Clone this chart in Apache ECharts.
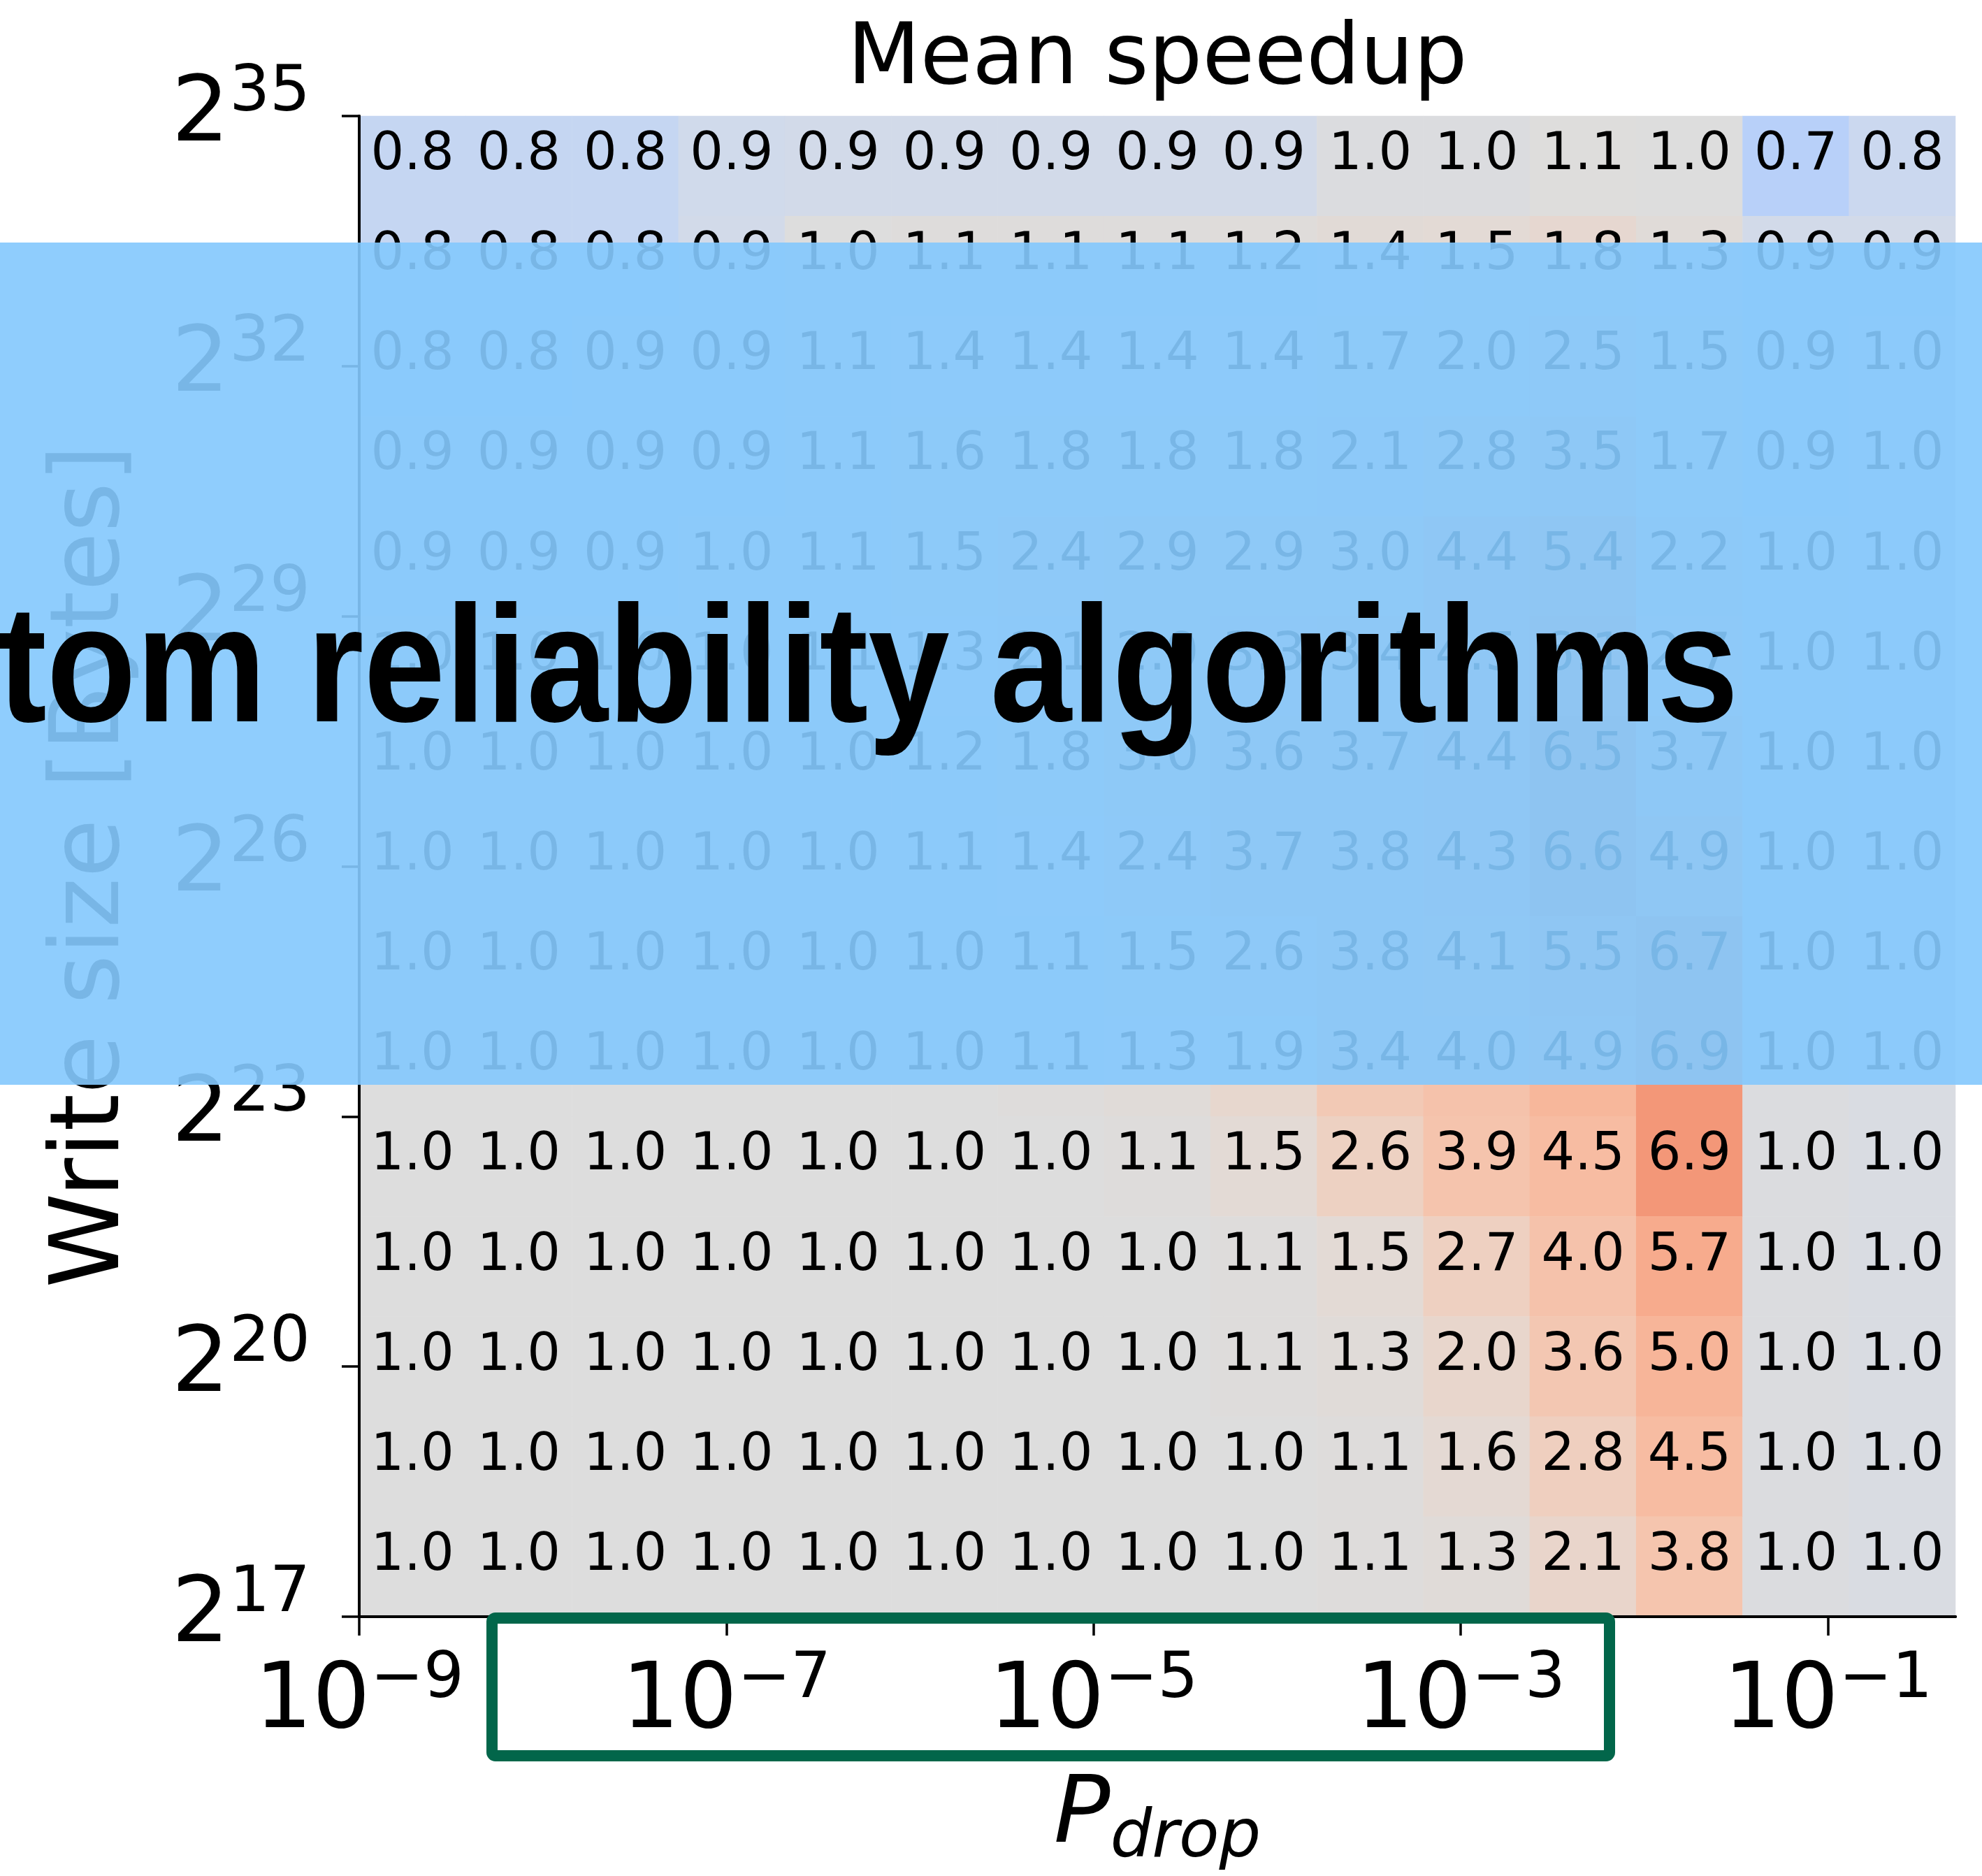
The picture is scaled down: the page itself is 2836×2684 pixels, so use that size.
<!DOCTYPE html>
<html>
<head>
<meta charset="utf-8">
<script src="https://cdn.jsdelivr.net/npm/echarts@6/dist/echarts.min.js"></script>
<style>
html,body{margin:0;padding:0;background:#ffffff;}
#chart{width:2836px;height:2684px;}
</style>
</head>
<body>
<div id="chart"></div>
<script>
// ---------------- DATA ----------------
// x categories: P_drop bins (column centres, approx.)
const pDropBins = ['1.9e-9','7.4e-9','2.8e-8','1.1e-7','4.1e-7','1.5e-6','5.9e-6','2.2e-5','8.5e-5','3.2e-4','1.2e-3','4.7e-3','1.8e-2','6.8e-2','2.6e-1'];
// y categories: log2(write size) bin centres, bottom -> top
const writeSizeBins = ['17.6','18.8','20.0','21.2','22.4','23.6','24.8','26.0','27.2','28.4','29.6','30.8','32.0','33.2','34.4'];

// Mean speedup, one array per row, from top (largest writes) to bottom
const row01 = [0.8,0.8,0.8,0.88,0.9,0.9,0.9,0.9,0.9,0.98,0.98,1.05,1.0,0.7,0.84];
const row02 = [0.8,0.8,0.8,0.9,1.0,1.1,1.1,1.1,1.2,1.4,1.5,1.8,1.3,0.9,0.9];
const row03 = [0.8,0.8,0.9,0.9,1.1,1.4,1.4,1.4,1.4,1.7,2.0,2.5,1.5,0.9,0.97];
const row04 = [0.9,0.9,0.9,0.9,1.1,1.6,1.8,1.8,1.8,2.1,2.8,3.5,1.7,0.9,0.97];
const row05 = [0.9,0.9,0.9,1.0,1.1,1.5,2.4,2.9,2.9,3.0,4.4,5.4,2.2,0.98,0.97];
const row06 = [1.0,1.0,1.0,1.0,1.1,1.3,2.1,2.9,3.3,3.4,4.5,6.1,2.7,0.98,0.97];
const row07 = [1.0,1.0,1.0,1.0,1.0,1.2,1.8,3.0,3.6,3.7,4.4,6.5,3.7,0.98,0.97];
const row08 = [1.0,1.0,1.0,1.0,1.0,1.1,1.4,2.4,3.7,3.8,4.3,6.6,4.9,0.98,0.97];
const row09 = [1.0,1.0,1.0,1.0,1.0,1.0,1.1,1.5,2.6,3.8,4.1,5.5,6.7,0.98,0.96];
const row10 = [1.0,1.0,1.0,1.0,1.0,1.0,1.1,1.3,1.9,3.4,4.0,4.9,6.9,0.98,0.96];
const row11 = [1.0,1.0,1.0,1.0,1.0,1.0,1.0,1.1,1.5,2.6,3.9,4.5,6.9,0.98,0.96];
const row12 = [1.0,1.0,1.0,1.0,1.0,1.0,1.0,1.0,1.1,1.5,2.7,4.0,5.7,0.98,0.96];
const row13 = [1.0,1.0,1.0,1.0,1.0,1.0,1.0,1.0,1.1,1.3,2.0,3.6,5.0,0.98,0.96];
const row14 = [1.0,1.0,1.0,1.0,1.0,1.0,1.0,1.0,1.0,1.1,1.6,2.8,4.5,0.98,0.96];
const row15 = [1.0,1.0,1.0,1.0,1.0,1.0,1.0,1.0,1.0,1.1,1.3,2.1,3.8,0.98,0.96];
const speedupRows = [row01,row02,row03,row04,row05,row06,row07,row08,row09,row10,row11,row12,row13,row14,row15];

// tick labels
const xTickExponents = [-9,-7,-5,-3,-1];      // 10^e
const yTickExponents = [17,20,23,26,29,32,35]; // 2^e
const xLogMin = -9, xLogMax = -0.305;          // log10 extent of x axis
const yLogMin = 17, yLogMax = 35;              // log2 extent of y axis

// ---------------- STYLE ----------------
const coolwarm = [[59,76,192],[68,90,204],[77,104,215],[87,117,225],[98,130,234],[108,142,241],[119,154,247],[130,165,251],[141,176,254],[152,185,255],[163,194,255],[174,201,253],[184,208,249],[194,213,244],[204,217,238],[213,219,230],[221,221,221],[229,216,209],[236,211,197],[241,204,185],[245,196,173],[247,187,160],[247,177,148],[247,166,135],[244,154,123],[241,141,111],[236,127,99],[229,112,88],[222,96,77],[213,80,66],[203,62,56],[192,40,47],[180,4,38]];
function cmap(v){
  let t = v < 1 ? 0.5 - 0.5*(1-v)/1.2 : 0.5 + 0.5*(v-1)/11.5;
  t = Math.max(0, Math.min(1, t));
  const f = t*(coolwarm.length-1);
  const i = Math.min(coolwarm.length-2, Math.floor(f));
  const w = f - i;
  const a = coolwarm[i], b = coolwarm[i+1];
  const c = [0,1,2].map(k => Math.round(a[k]*(1-w) + b[k]*w));
  return 'rgb(' + c.join(',') + ')';
}
const FONT = 'DejaVu Sans';
const MINUS = '\u2212';

const heatData = [];
speedupRows.forEach((row, r) => {
  row.forEach((v, c) => {
    heatData.push({ value: [c, speedupRows.length - 1 - r, v], itemStyle: { color: cmap(v) } });
  });
});

const supRich = {
  b: { fontSize: 130, fontFamily: FONT, color: '#000', lineHeight: 132, verticalAlign: 'bottom' },
  s: { fontSize: 91, fontFamily: FONT, color: '#000', lineHeight: 91, verticalAlign: 'bottom', padding: [0,0,52,0] }
};
function fmtExp(e){ return e < 0 ? MINUS + Math.abs(e) : String(e); }

const chart = echarts.init(document.getElementById('chart'), null, { renderer: 'canvas', width: 2836, height: 2684 });

const option = {
  animation: false,
  backgroundColor: '#ffffff',
  title: {
    text: 'Mean speedup',
    left: 1656, top: 27, padding: 0,
    textAlign: 'center',
    textStyle: { fontSize: 121, fontWeight: 'normal', fontFamily: FONT, color: '#000' }
  },
  grid: { left: 514, right: 38, top: 166, bottom: 367, containLabel: false },
  xAxis: [
    {
      type: 'category', data: pDropBins, position: 'top', z: 10,
      axisLine: { show: true, lineStyle: { color: '#000', width: 4 } },
      axisTick: { show: false }, axisLabel: { show: false }, splitLine: { show: false }
    },
    {
      type: 'value', position: 'bottom', z: 10,
      min: 0, max: xLogMax - xLogMin, interval: 2,
      axisLine: { show: true, onZero: false, lineStyle: { color: '#000', width: 4 } },
      axisTick: { show: true, length: 27, customValues: xTickExponents.map(e => e - xLogMin), lineStyle: { color: '#000', width: 3.5 } },
      axisLabel: {
        show: true, margin: 57,
        customValues: xTickExponents.map(e => e - xLogMin),
        formatter: v => '{b|10}{s|' + fmtExp(Math.round(v + xLogMin)) + '}',
        rich: supRich
      },
      splitLine: { show: false },
      name: '{i|P}{s|drop}', nameLocation: 'middle', nameGap: 226,
      nameTextStyle: {
        rich: {
          i: { fontSize: 134, fontStyle: 'italic', fontFamily: FONT, color: '#000', lineHeight: 140, verticalAlign: 'bottom', padding: [0,0,12,0] },
          s: { fontSize: 94, fontStyle: 'italic', fontFamily: FONT, color: '#000', lineHeight: 94, verticalAlign: 'bottom' }
        }
      }
    }
  ],
  yAxis: [
    {
      type: 'category', data: writeSizeBins, position: 'right', z: 10,
      axisLine: { show: true, lineStyle: { color: '#000', width: 4 } },
      axisTick: { show: false }, axisLabel: { show: false }, splitLine: { show: false }
    },
    {
      type: 'value', position: 'left', z: 10,
      min: 0, max: yLogMax - yLogMin, interval: 3,
      axisLine: { show: true, onZero: false, lineStyle: { color: '#000', width: 4 } },
      axisTick: { show: true, length: 25, customValues: yTickExponents.map(e => e - yLogMin), lineStyle: { color: '#000', width: 3.5 } },
      axisLabel: {
        show: true, margin: 70,
        customValues: yTickExponents.map(e => e - yLogMin),
        formatter: v => '{b|2}{s|' + fmtExp(Math.round(v + yLogMin)) + '}',
        rich: supRich
      },
      splitLine: { show: false },
      name: 'Write size [Bytes]', nameLocation: 'middle', nameGap: 312, nameRotate: 90,
      nameTextStyle: { fontSize: 137, fontFamily: FONT, color: '#000' }
    }
  ],
  series: [{
    type: 'heatmap',
    xAxisIndex: 0, yAxisIndex: 0,
    data: heatData,
    itemStyle: { borderWidth: 0 },
    emphasis: { disabled: true },
    label: {
      show: true,
      formatter: p => p.value[2].toFixed(1),
      fontSize: 75, fontFamily: FONT, color: '#000',
      offset: [0, -15]
    }
  }],
  graphic: [
    {
      type: 'rect', z: 100,
      shape: { x: 704, y: 2315, width: 1599, height: 197, r: 5 },
      style: { fill: 'none', stroke: '#02664A', lineWidth: 16 }
    },
    {
      type: 'rect', z: 110,
      shape: { x: 0, y: 347, width: 2836, height: 1205 },
      style: { fill: 'rgba(132,200,253,0.91)' }
    },
    {
      type: 'text', z: 120,
      x: -3, y: 966, scaleX: 0.88, scaleY: 1,
      style: {
        text: 'tom reliability algorithms',
        fontSize: 238, fontWeight: 'bold', fontFamily: '"Liberation Sans", Arial, sans-serif',
        fill: '#000',
        textAlign: 'left', textVerticalAlign: 'middle', align: 'left', verticalAlign: 'middle'
      }
    }
  ]
};
chart.setOption(option);
</script>
</body>
</html>
